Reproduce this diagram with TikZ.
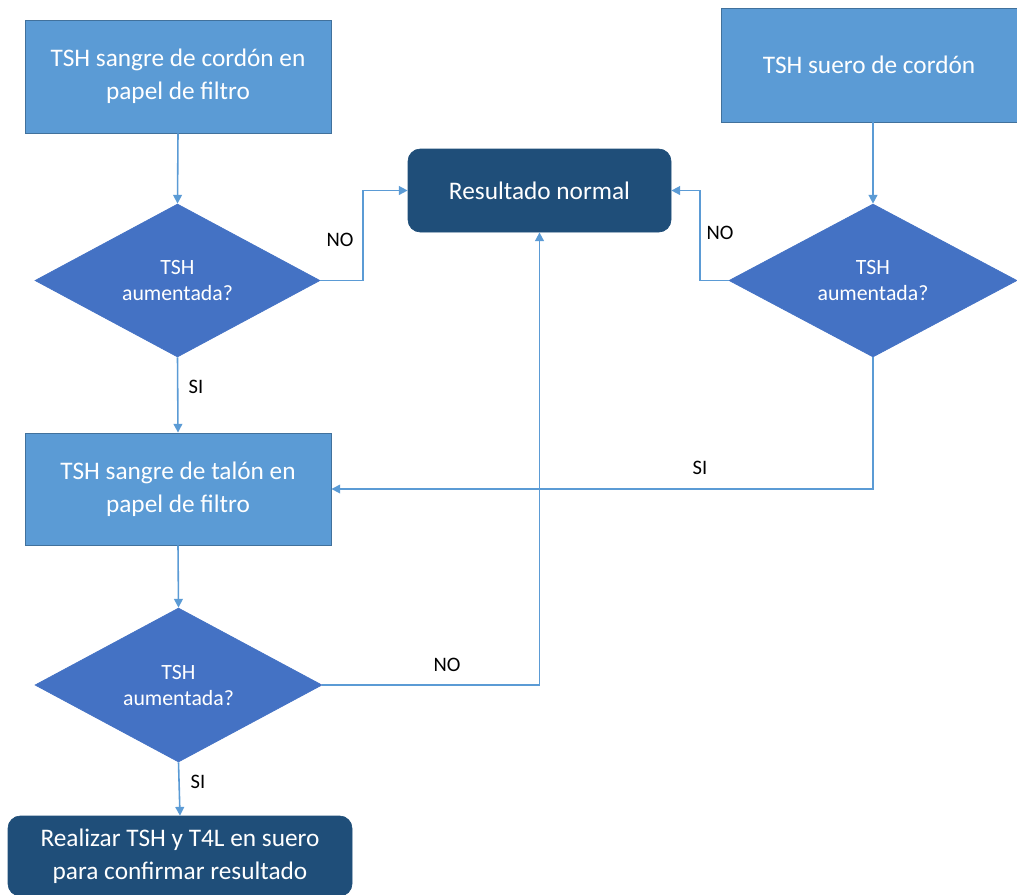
\documentclass[tikz,border=0pt]{standalone}
\usepackage{fontspec}
\setmainfont{Carlito}
\usetikzlibrary{shapes.geometric,arrows.meta}
\definecolor{boxblue}{HTML}{5B9BD5}
\definecolor{boxedge}{HTML}{41719C}
\definecolor{diamblue}{HTML}{4472C4}
\definecolor{darkbox}{HTML}{1F4E79}
\definecolor{linkblue}{HTML}{5B9BD5}
\begin{document}
\begin{tikzpicture}[x=0.02cm,y=-0.02cm,
  boxfont/.style={font=\fontsize{14.4}{18.7}\selectfont},
  lightbox/.style={rectangle,fill=boxblue,draw=boxedge,line width=0.5pt,text=white,boxfont,align=center,inner sep=0pt},
  darkrbox/.style={rectangle,rounded corners=7pt,fill=darkbox,draw=darkbox,text=white,boxfont,align=center,inner sep=0pt},
  decision/.style={diamond,fill=diamblue,draw=diamblue,text=white,font=\fontsize{12.4}{14.8}\selectfont,align=center,inner sep=0pt},
  link/.style={draw=linkblue,line width=0.9pt,-{Triangle[length=5pt,width=5pt]}},
  lbl/.style={font=\fontsize{11.7}{14}\selectfont,text=black,inner sep=0pt}]
\useasboundingbox (0,0) rectangle (1017,894);
% boxes
\node[lightbox,minimum width=306*0.02cm,minimum height=113*0.02cm] (b1) at (178,76.5) {TSH sangre de cordón en\\papel de filtro};
\node[lightbox,minimum width=296*0.02cm,minimum height=114*0.02cm] (b2) at (869,65) {TSH suero de cordón};
\node[darkrbox,minimum width=263*0.02cm,minimum height=83*0.02cm] (res) at (539.5,190.5) {Resultado normal};
\node[lightbox,minimum width=306*0.02cm,minimum height=112*0.02cm] (b3) at (178,489) {TSH sangre de talón en\\papel de filtro};
\node[darkrbox,minimum width=344*0.02cm,minimum height=80*0.02cm] (b4) at (180,856) {Realizar TSH y T4L en suero\\para confirmar resultado};
% decisions
\node[decision,minimum width=285*0.02cm,minimum height=153*0.02cm] (d1) at (177.5,280.5) {TSH\\aumentada?};
\node[decision,minimum width=288*0.02cm,minimum height=153*0.02cm] (d2) at (873,280.5) {TSH\\aumentada?};
\node[decision,minimum width=287*0.02cm,minimum height=154*0.02cm] (d3) at (178.5,685) {TSH\\aumentada?};
% junction columns
\coordinate (j1) at (363,0);
\coordinate (j2) at (700,0);
% connectors
\draw[link] (b1.south) -- (d1.north);
\draw[link] (d1.east) -- (d1.east -| j1) |- (res.west);
\draw[link] (d1.south) -- (b3.north);
\draw[link] (d2.north |- b2.south) -- (d2.north);
\draw[link] (d2.west) -- (d2.west -| j2) |- (res.east);
\draw[link] (d2.south) |- (b3.east);
\draw[link] (b3.south) -- (d3.north);
\draw[link] (d3.east) -| (res.south);
\draw[link] (d3.south) -- (b4.north);
% labels
\node[lbl] (l1) at (340,240) {NO};
\node[lbl] (l2) at (720,233) {NO};
\node[lbl] (l3) at (196,387) {SI};
\node[lbl] (l4) at (700,468) {SI};
\node[lbl] (l5) at (447,665) {NO};
\node[lbl] (l6) at (198,782) {SI};
\end{tikzpicture}
\end{document}
